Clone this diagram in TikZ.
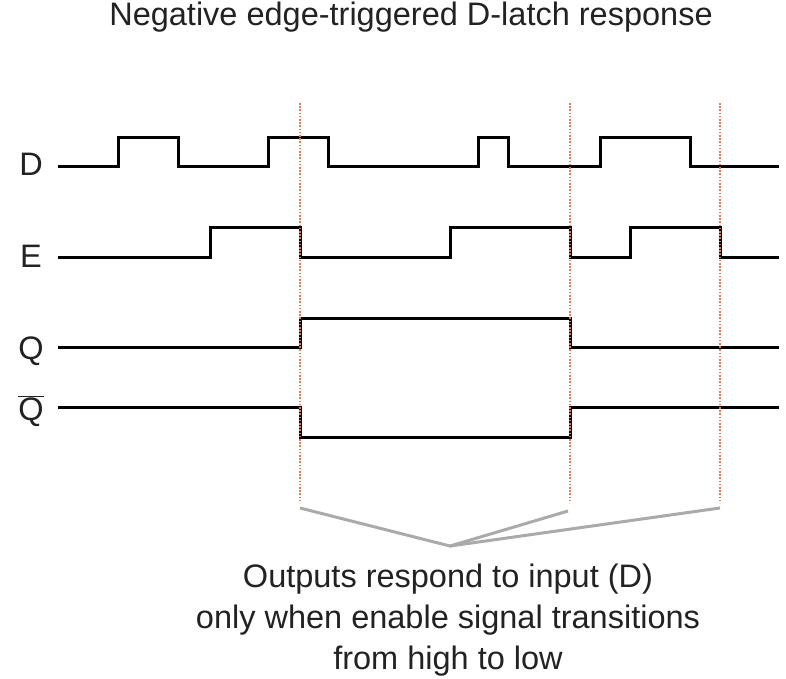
\documentclass[tikz,border=0pt]{standalone}
\usepackage{fontspec}
\setmainfont{Liberation Sans}
\usepackage{tikz}
\usepackage{xcolor}
\definecolor{edgered}{RGB}{234,120,82}
\definecolor{notegray}{RGB}{170,170,170}
\definecolor{textgray}{RGB}{34,34,34}

\begin{document}
\begin{tikzpicture} [x=1pt, y=-1pt,
    signal/.style={line width=3pt, black},
    edge/.style={line width=1.6pt, edgered, dash pattern=on 1.6pt off 1.6pt},
    pointer/.style={line width=3pt, notegray},
    label/.style={font=\fontsize{32.5}{41}\selectfont, text=textgray, inner sep=0pt}]
  \useasboundingbox (0,0) rectangle (786,678);
  % Title
  \node[label, anchor=base] (title) at (411,25) {Negative edge-triggered D-latch response};
  % Signal names
  \node[label, anchor=base] (D) at (31,175) {D};
  \node[label, anchor=base] (E) at (31,267) {E};
  \node[label, anchor=base] (Q) at (31,359) {Q};
  \node[label, anchor=base] (Qbar) at (31,420) {$\overline{\mbox{Q}}$};
  % Waveforms
  \draw[signal] (58,166) -- (118,166) -- (118,137) -- (178,137) -- (178,166)
    -- (268,166) -- (268,137) -- (328,137) -- (328,166) -- (478,166) -- (478,137)
    -- (508,137) -- (508,166) -- (600,166) -- (600,137) -- (690,137) -- (690,166)
    -- (779,166);
  \draw[signal] (58,257) -- (210,257) -- (210,227) -- (300,227) -- (300,257)
    -- (450,257) -- (450,227) -- (570,227) -- (570,257) -- (630,257) -- (630,227)
    -- (720,227) -- (720,257) -- (779,257);
  \draw[signal] (58,347) -- (300,347) -- (300,318) -- (570,318) -- (570,347) -- (779,347);
  \draw[signal] (58,407) -- (300,407) -- (300,437) -- (570,437) -- (570,407) -- (779,407);
  % Falling edges of E
  \foreach \x in {300,570,720}
    \draw[edge] (\x,103) -- (\x,503);
  % Note
  \coordinate (fall1) at (300,508);
  \coordinate (fall2) at (568,511);
  \coordinate (fall3) at (720,508);
  \coordinate (apex) at (450,546);
  \draw[pointer] (fall1) -- (apex) -- (fall2);
  \draw[pointer] (apex) -- (fall3);
  \node[label, align=center, anchor=north] (note) at (448,564)
    {Outputs respond to input (D)\\only when enable signal transitions\\from high to low};
\end{tikzpicture}
\end{document}
